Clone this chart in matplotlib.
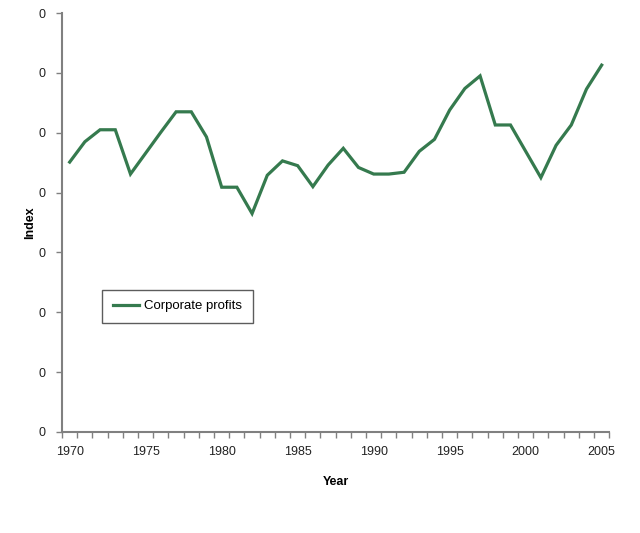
import matplotlib

matplotlib.use("Agg")
import matplotlib.pyplot as plt
import numpy as np
from matplotlib.ticker import FixedLocator, NullFormatter

years = list(range(1970, 2006))
profits = [
    4.51, 4.85, 5.05, 5.05, 4.31, 4.66, 5.01, 5.35, 5.35, 4.93,
    4.09, 4.09, 3.65, 4.29, 4.53, 4.45, 4.10, 4.46, 4.74, 4.42,
    4.31, 4.31, 4.34, 4.69, 4.89, 5.38, 5.74, 5.95, 5.13, 5.13,
    4.69, 4.25, 4.79, 5.13, 5.73, 6.13,
]
y_ticks = list(range(0, 8))
y_tick_labels = ["0"] * len(y_ticks)
x_tick_years = list(range(1970, 2006, 5))

plt.rcParams["font.family"] = ["Liberation Sans", "DejaVu Sans"]

fig = plt.figure(figsize=(6.4, 5.33), dpi=100)
ax = fig.add_axes([0.097, 0.1895, 0.855, 0.786])

green = "#357a4e"
axis_grey = "#808080"

ax.plot(years, profits, color=green, lw=2.3, label="Corporate profits", solid_joinstyle="miter")

ax.set_xlim(years[0] - 0.5, years[-1] + 0.5)
ax.set_ylim(y_ticks[0], y_ticks[-1])

ax.set_yticks(y_ticks)
ax.set_yticklabels(y_tick_labels)
ax.set_xticks(x_tick_years)
ax.set_xticklabels([str(y) for y in x_tick_years])
ax.xaxis.set_minor_locator(FixedLocator(np.arange(years[0] - 0.5, years[-1] + 1.0, 1.0)))
ax.xaxis.set_minor_formatter(NullFormatter())

ax.tick_params(axis="x", which="major", length=0, pad=10, labelsize=9, colors="#222222")
ax.tick_params(axis="x", which="minor", length=4, width=1, color=axis_grey, direction="out")
ax.tick_params(axis="y", length=4, width=1, color=axis_grey, pad=8, labelsize=9, labelcolor="#222222")

for side in ("top", "right"):
    ax.spines[side].set_visible(False)
for side in ("left", "bottom"):
    ax.spines[side].set_color(axis_grey)
    ax.spines[side].set_linewidth(1.5)

ax.set_xlabel("Year", fontsize=9, fontweight="bold", labelpad=13)
ax.set_ylabel("Index", fontsize=9, fontweight="bold", labelpad=2)

leg = ax.legend(loc="upper left", bbox_to_anchor=(0.073, 0.34), fontsize=9.5,
                frameon=True, fancybox=False, edgecolor="#333333",
                handlelength=2.0, borderpad=0.8, handletextpad=0.4,
                borderaxespad=0)
leg.get_frame().set_linewidth(1.0)

fig.savefig("out.png", dpi=100)
